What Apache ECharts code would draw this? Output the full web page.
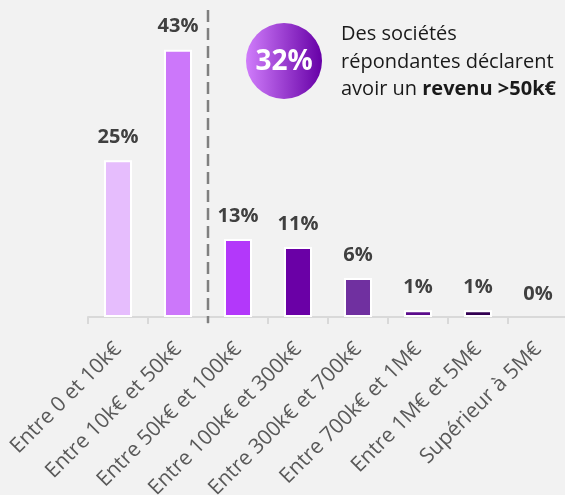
<!DOCTYPE html>
<html>
<head>
<meta charset="utf-8">
<script src="https://cdn.jsdelivr.net/npm/echarts@6/dist/echarts.min.js"></script>
<style>
  html, body { margin: 0; padding: 0; background: #f2f2f2; }
  #chart { width: 565px; height: 495px; }
</style>
</head>
<body>
<div id="chart"></div>
<script>
// revenue brackets
const categories = [
  "Entre 0 et 10k€",
  "Entre 10k€ et 50k€",
  "Entre 50k€ et 100k€",
  "Entre 100k€ et 300k€",
  "Entre 300k€ et 700k€",
  "Entre 700k€ et 1M€",
  "Entre 1M€ et 5M€",
  "Supérieur à 5M€",
];
// share of respondents, %
const shares = [25.3, 43.1, 12.6, 11.3, 6.3, 1.1, 1.1, 0];
const shareLabels = ["25%", "43%", "13%", "11%", "6%", "1%", "1%", "0%"];
const barColors = ["#e6bdfd", "#cc77fa", "#b338fa", "#6a00a6", "#7030a0", "#5c0c8c", "#330052", "#330052"];
const highlightValue = "32%";

const FONT = "'Open Sans', sans-serif";
const chart = echarts.init(document.getElementById("chart"), null, { renderer: "canvas" });

chart.setOption({
  backgroundColor: "#f2f2f2",
  animation: false,
  // labels run off the bottom in the original, so don't let the grid shrink
  grid: { left: 88, width: 480, top: 7, bottom: 178, outerBoundsMode: "none", containLabel: false },
  xAxis: {
    type: "category",
    data: categories,
    axisLine: { lineStyle: { color: "#d9d9d9", width: 2 } },
    axisTick: { show: true, length: 7, lineStyle: { color: "#d9d9d9", width: 2 } },
    axisLabel: {
      rotate: 45,
      interval: 0,
      margin: 29,
      color: "#595959",
      fontSize: 21,
      fontFamily: FONT,
    },
  },
  yAxis: { type: "value", min: 0, max: 50, show: false, splitLine: { show: false } },
  series: [{
    type: "bar",
    barWidth: 28,
    data: shares.map((v, i) => ({
      value: v,
      itemStyle: { color: barColors[i], borderWidth: v > 0 ? 2 : 0 },
    })),
    itemStyle: { borderColor: "#ffffff", borderWidth: 2 },
    label: {
      show: true,
      position: "top",
      distance: 13,
      color: "#404040",
      fontSize: 20,
      fontWeight: "bold",
      fontFamily: FONT,
      formatter: (p) => shareLabels[p.dataIndex],
    },
  }],
});

// dashed separator between the 10k-50k and 50k-100k brackets
const x1 = chart.convertToPixel({ xAxisIndex: 0 }, 1);
const x2 = chart.convertToPixel({ xAxisIndex: 0 }, 2);
const sepX = Math.round((x1 + x2) / 2);
const axisY = chart.convertToPixel({ yAxisIndex: 0 }, 0);

chart.setOption({
  graphic: [
    {
      type: "line",
      shape: { x1: sepX, y1: 10, x2: sepX, y2: axisY + 6 },
      style: { stroke: "#7f7f7f", lineWidth: 2.5, lineDash: [12, 6] },
      z: 10,
    },
    {
      type: "circle",
      shape: { cx: 284, cy: 61, r: 38 },
      style: {
        fill: new echarts.graphic.LinearGradient(0, 0, 1, 0, [
          { offset: 0, color: "#d07dfb" },
          { offset: 1, color: "#6600a6" },
        ]),
      },
    },
    {
      type: "text",
      x: 284, y: 62,
      style: {
        text: highlightValue,
        fill: "#ffffff",
        font: "bold 28px " + FONT,
        align: "center",
        verticalAlign: "middle",
      },
    },
    {
      type: "text",
      x: 341, y: 21,
      style: {
        text: "Des sociétés\nrépondantes déclarent\navoir un {b|revenu >50k€}",
        fill: "#1a1a1a",
        font: "20px " + FONT,
        lineHeight: 27.5,
        rich: {
          b: { fontWeight: "bold", fontSize: 20, fontFamily: FONT, fill: "#1a1a1a", lineHeight: 27.5 },
        },
      },
    },
  ],
});
</script>
</body>
</html>
